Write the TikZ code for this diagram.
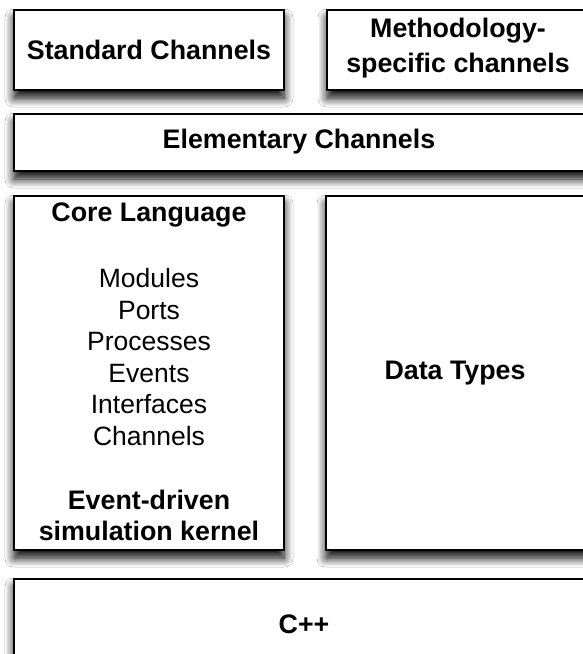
\documentclass[tikz,border=0pt]{standalone}
\usepackage{fontspec}
\setmainfont{Liberation Sans}
\usetikzlibrary{shadows.blur}
\begin{document}
\begin{tikzpicture}[x=1pt,y=-1pt,
  layer/.style={draw=black, line width=1.3pt, fill=white, inner sep=0pt,
    blur shadow={shadow xshift=0pt, shadow yshift=-8pt, shadow blur radius=9pt, shadow opacity=100, shadow blur steps=12}},
  bold/.style={font=\fontsize{26.8}{31}\selectfont\bfseries, align=center, inner sep=0pt},
  plain/.style={font=\fontsize{26.5}{31.5}\selectfont, align=center, inner sep=0pt}]
\useasboundingbox (0,0) rectangle (583,654);
\clip (0,0) rectangle (583,654);
\fill[white] (0,0) rectangle (583,654);
% boxes
\node[layer, minimum width=270pt, minimum height=80pt] (std) at (149,50) {};
\node[layer, minimum width=266pt, minimum height=80pt] (meth) at (460,50) {};
\node[layer, minimum width=578pt, minimum height=57pt] (elem) at (303,142.5) {};
\node[layer, minimum width=270pt, minimum height=354pt] (core) at (149,373) {};
\node[layer, minimum width=266pt, minimum height=354pt] (data) at (459,373) {};
\node[layer, minimum width=578pt, minimum height=92pt] (cpp) at (303,625) {};
% texts
\node[bold, font=\fontsize{26.8}{35}\selectfont\bfseries] (metht) at (458,48) {Methodology-\\specific channels};
\node[bold] (stdt) at (std.center) {Standard Channels};
\node[bold] (elemt) at (299,142) {Elementary Channels};
\node[bold] (coret) at (149,215) {Core Language};
\node[plain] (corel) at (149,357) {Modules\\Ports\\Processes\\Events\\Interfaces\\Channels};
\node[bold] (kern) at (149,515) {Event-driven\\simulation kernel};
\node[bold] (datat) at (455,373) {Data Types};
\node[bold] (cppt) at (304,624) {C++};
\end{tikzpicture}
\end{document}
